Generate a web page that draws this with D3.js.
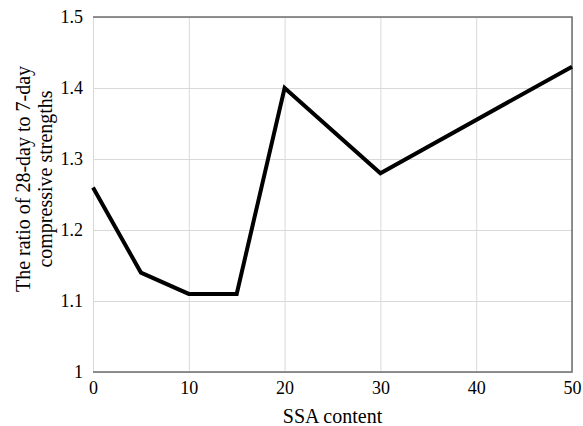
<!DOCTYPE html>
<html>
<head>
<meta charset="utf-8">
<script src="https://cdn.jsdelivr.net/npm/d3@7"></script>
<style>
  body { margin: 0; background: #fff; }
  text { font-family: "Liberation Serif", "Times New Roman", serif; fill: #000; }
</style>
</head>
<body>
<script>
  const ssaContent = [0, 5, 10, 15, 20, 30, 50]
  const strengthRatio = [1.26, 1.14, 1.11, 1.11, 1.40, 1.28, 1.43]
  const xTicks = [0, 10, 20, 30, 40, 50]
  const yTicks = [1, 1.1, 1.2, 1.3, 1.4, 1.5]

  let size = { width: 583, height: 426 }
  let plot = { left: 93, right: 572, top: 17, bottom: 372 }

  let svg = d3.select('body')
    .append('svg')
    .attr('width', size.width)
    .attr('height', size.height)

  let xScale = d3.scaleLinear()
    .domain([0, 50])
    .range([plot.left, plot.right])

  let yScale = d3.scaleLinear()
    .domain([1, 1.5])
    .range([plot.bottom, plot.top])

  // grid
  svg.append('g')
    .attr('transform', 'translate(0,' + plot.bottom + ')')
    .call(d3.axisBottom(xScale).tickValues(xTicks).tickSize(-(plot.bottom - plot.top)).tickFormat(''))
    .call(g => g.select('.domain').remove())
    .selectAll('line').attr('stroke', '#d9d9d9')

  svg.append('g')
    .attr('transform', 'translate(' + plot.left + ',0)')
    .call(d3.axisLeft(yScale).tickValues(yTicks).tickSize(-(plot.right - plot.left)).tickFormat(''))
    .call(g => g.select('.domain').remove())
    .selectAll('line').attr('stroke', '#d9d9d9')

  // frame: top, right, bottom
  svg.append('path')
    .attr('d', 'M' + plot.left + ',' + plot.top + 'H' + plot.right + 'V' + plot.bottom + 'H' + plot.left)
    .attr('fill', 'none')
    .attr('stroke', '#6e6e6e')
    .attr('stroke-width', 1.5)

  // tick labels
  svg.append('g')
    .attr('transform', 'translate(0,' + plot.bottom + ')')
    .call(d3.axisBottom(xScale).tickValues(xTicks).tickSize(0).tickPadding(9).tickFormat(d3.format('d')))
    .call(g => g.select('.domain').remove())
    .selectAll('text')
    .style('font-size', '18px')
    .style('font-family', '"Liberation Serif", serif')

  svg.append('g')
    .attr('transform', 'translate(' + plot.left + ',0)')
    .call(d3.axisLeft(yScale).tickValues(yTicks).tickSize(0).tickPadding(10).tickFormat(d => d === 1 ? '1' : d3.format('.1f')(d)))
    .call(g => g.select('.domain').remove())
    .selectAll('text')
    .style('font-size', '18px')
    .style('font-family', '"Liberation Serif", serif')

  // axis titles
  svg.append('text')
    .attr('x', (plot.left + plot.right) / 2)
    .attr('y', 423)
    .attr('text-anchor', 'middle')
    .style('font-size', '20px')
    .text('SSA content')

  let yTitle = svg.append('text')
    .attr('transform', 'translate(30,179)rotate(-90)')
    .attr('text-anchor', 'middle')
    .style('font-size', '20px')
  yTitle.append('tspan').attr('x', 0).attr('dy', 0).text('The ratio of 28-day to 7-day')
  yTitle.append('tspan').attr('x', 0).attr('dy', 22).text('compressive strengths')

  // line
  let points = ssaContent.map((c, i) => ({ c: c, r: strengthRatio[i] }))
  let line = d3.line()
    .x(d => xScale(d.c))
    .y(d => yScale(d.r))

  svg.append('path')
    .datum(points)
    .attr('d', line)
    .attr('fill', 'none')
    .attr('stroke', '#000')
    .attr('stroke-width', 4)
    .attr('stroke-linejoin', 'miter')
</script>
</body>
</html>
